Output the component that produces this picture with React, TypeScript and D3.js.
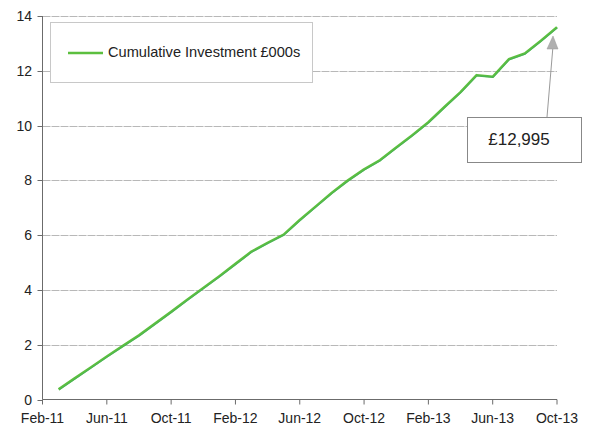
import React from "react";
import * as d3 from "d3";

const monthLabels = [
  "Feb-11","Mar-11","Apr-11","May-11","Jun-11","Jul-11","Aug-11","Sep-11","Oct-11","Nov-11","Dec-11",
  "Jan-12","Feb-12","Mar-12","Apr-12","May-12","Jun-12","Jul-12","Aug-12","Sep-12","Oct-12","Nov-12","Dec-12",
  "Jan-13","Feb-13","Mar-13","Apr-13","May-13","Jun-13","Jul-13","Aug-13","Sep-13","Oct-13",
];
const tickLabels = ["Feb-11","Jun-11","Oct-11","Feb-12","Jun-12","Oct-12","Feb-13","Jun-13","Oct-13"];
const yTicks = [0, 2, 4, 6, 8, 10, 12, 14];

const dataMonths = monthLabels.slice(1);
const cumulative = [
  0.37, 0.77, 1.17, 1.57, 1.96, 2.34, 2.77, 3.2, 3.64, 4.07,
  4.5, 4.95, 5.4, 5.72, 6.02, 6.55, 7.05, 7.55, 8.0, 8.4,
  8.74, 9.2, 9.65, 10.12, 10.68, 11.22, 11.84, 11.78, 12.42, 12.63,
  13.1, 13.59,
];
const seriesName = "Cumulative Investment £000s";
const calloutText = "£12,995";

const W = 592, H = 428;
const font = "'Liberation Sans', Arial, sans-serif";

export default function App() {
  const x = d3.scaleLinear().domain([0, monthLabels.length - 1]).range([42.5, 557]);
  const y = d3.scaleLinear().domain([0, 14]).range([399.5, 16]);
  const pts = cumulative.map((v, i) => [x(monthLabels.indexOf(dataMonths[i])), y(v)] as [number, number]);
  const line = d3.line<[number, number]>()(pts) || "";
  const last = pts[pts.length - 1];
  const axisColor = "#6b6b6b";
  const gridColor = "#b8b8b8";
  return (
    <svg width={W} height={H} style={{ position: "absolute", left: 0, top: 0, background: "#fff" }}>
      {/* gridlines */}
      {yTicks.filter(t => t > 0).map(t => (
        <line key={"g" + t} x1={42.5} x2={557} y1={Math.round(y(t)) + 0.5} y2={Math.round(y(t)) + 0.5}
          stroke={gridColor} strokeWidth={1} strokeDasharray="8 1" />
      ))}
      {/* y axis */}
      <line x1={42.5} x2={42.5} y1={16} y2={399.5} stroke={axisColor} strokeWidth={1} />
      {yTicks.map(t => (
        <g key={"y" + t}>
          <line x1={37.5} x2={42.5} y1={Math.round(y(t)) + 0.5} y2={Math.round(y(t)) + 0.5} stroke={axisColor} />
          <text x={32} y={y(t) + 5} textAnchor="end" fontFamily={font} fontSize={14} fill="#222">{t}</text>
        </g>
      ))}
      {/* x axis */}
      <line x1={42.5} x2={557} y1={399.5} y2={399.5} stroke={axisColor} strokeWidth={1} />
      {tickLabels.map(l => {
        const xi = x(monthLabels.indexOf(l));
        return (
          <g key={"x" + l}>
            <line x1={xi} x2={xi} y1={399.5} y2={404.5} stroke={axisColor} />
            <text x={xi} y={423} textAnchor="middle" fontFamily={font} fontSize={14} fill="#222">{l}</text>
          </g>
        );
      })}
      {/* series */}
      <path d={line} fill="none" stroke="#5cbf3f" strokeWidth={2.6} strokeLinejoin="round" />
      <path d={line} fill="none" stroke="#3aa86a" strokeWidth={1} strokeLinejoin="round" transform="translate(0.6,0.6)" opacity={0.6} />
      {/* legend */}
      <rect x={50.5} y={22.5} width={262} height={60} fill="#fff" stroke="#c8c8c8" strokeWidth={1} />
      <line x1={68} x2={103} y1={53} y2={53} stroke="#5cbf3f" strokeWidth={2.6} />
      <text x={108} y={57} fontFamily={font} fontSize={14.6} fill="#222">{seriesName}</text>
      {/* callout */}
      <line x1={547} y1={117} x2={last[0] - 4} y2={46} stroke="#9a9a9a" strokeWidth={1} />
      <path d={`M${last[0] - 4},${36} L${last[0] - 10},${49} L${last[0] + 1},${49} Z`} fill="#b0b0b0" stroke="#999" strokeWidth={0.5} />
      <rect x={467.5} y={117.5} width={114} height={45} fill="#fff" stroke="#888" strokeWidth={1} />
      <text x={519} y={145} textAnchor="middle" fontFamily={font} fontSize={17} fill="#222">{calloutText}</text>
    </svg>
  );
}
